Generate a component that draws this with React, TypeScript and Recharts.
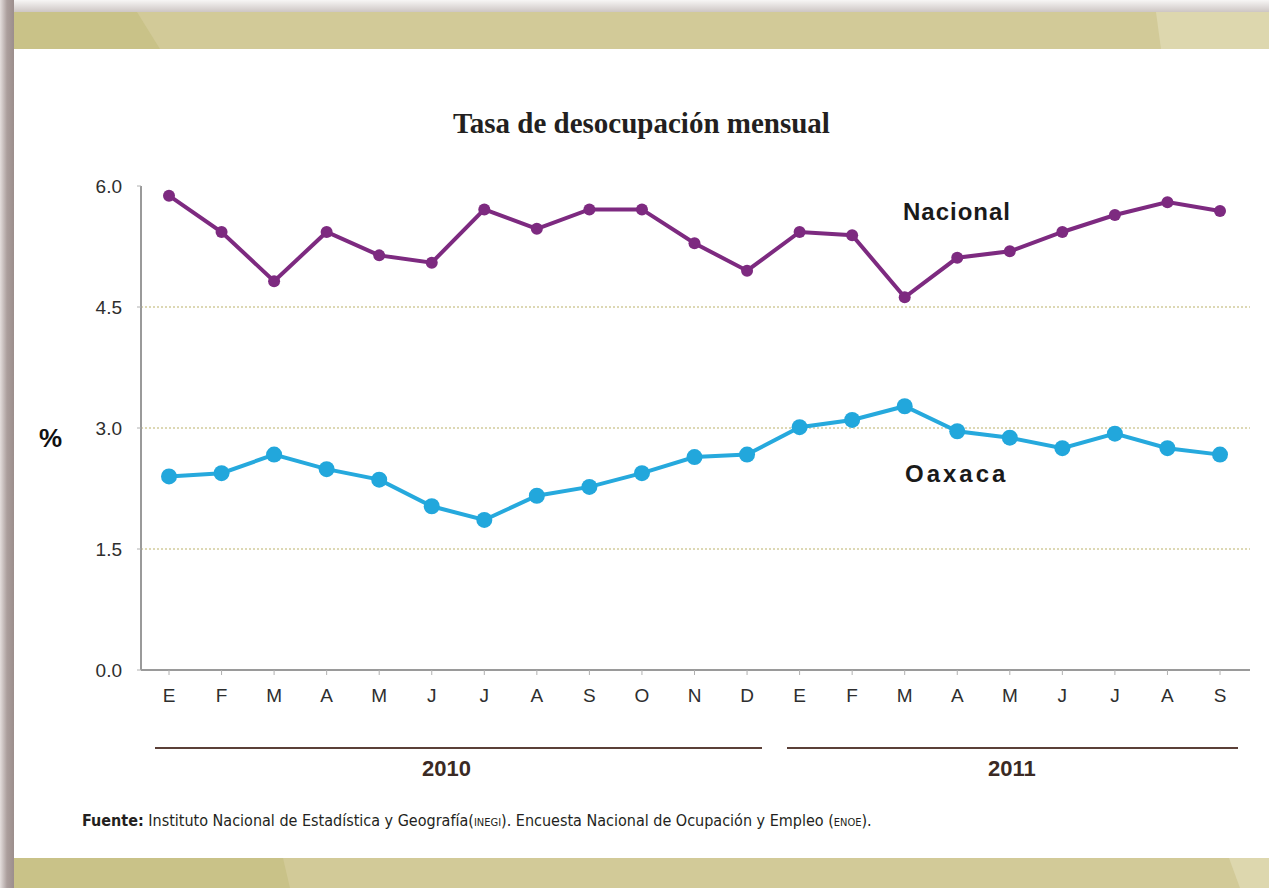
import React from 'react';
import { LineChart, Line, XAxis, YAxis, ReferenceLine } from 'recharts';

const months = ['E', 'F', 'M', 'A', 'M', 'J', 'J', 'A', 'S', 'O', 'N', 'D', 'E', 'F', 'M', 'A', 'M', 'J', 'J', 'A', 'S'];
const nacional = [5.88, 5.43, 4.82, 5.43, 5.14, 5.05, 5.71, 5.47, 5.71, 5.71, 5.29, 4.95, 5.43, 5.39, 4.62, 5.11, 5.19, 5.43, 5.64, 5.8, 5.69];
const oaxaca = [2.4, 2.44, 2.67, 2.49, 2.36, 2.03, 1.86, 2.16, 2.27, 2.44, 2.64, 2.67, 3.01, 3.1, 3.27, 2.96, 2.88, 2.75, 2.93, 2.75, 2.67];
const yTicks = [0, 1.5, 3, 4.5, 6];
const gridValues = [1.5, 3, 4.5];

const data = months.map((m, i) => ({ name: m, nacional: nacional[i], oaxaca: oaxaca[i] }));

const GOLD = '#d2ca98';
const GOLD_DARK = '#c9c288';
const GOLD_LIGHT = '#ddd7ae';

const tickStyle = { fontFamily: 'Liberation Sans, Arial, sans-serif', fontSize: 19, fill: '#2e2e2e' };

const Frame: React.FC = () => (
  <svg width={1269} height={888} style={{ position: 'absolute', left: 0, top: 0 }}>
    <defs>
      <linearGradient id="topShade" x1="0" y1="0" x2="0" y2="1">
        <stop offset="0" stopColor="#f7f6f5" />
        <stop offset="1" stopColor="#cdc6c4" />
      </linearGradient>
      <linearGradient id="leftShade" x1="0" y1="0" x2="1" y2="0">
        <stop offset="0" stopColor="#e4dedd" />
        <stop offset="0.5" stopColor="#ab9e9c" />
        <stop offset="1" stopColor="#9c8e8c" />
      </linearGradient>
    </defs>
    <rect x={0} y={0} width={1269} height={12} fill="url(#topShade)" />
    <rect x={0} y={0} width={14} height={888} fill="url(#leftShade)" />
    {/* top band */}
    <rect x={14} y={12} width={1255} height={37} fill={GOLD} />
    <polygon points="14,12 137,12 160,49 14,49" fill={GOLD_DARK} />
    <polygon points="1156,12 1269,12 1269,49 1161,49" fill={GOLD_LIGHT} />
    {/* bottom band */}
    <rect x={14} y={858} width={1255} height={30} fill={GOLD} />
    <polygon points="14,858 283,858 290,888 14,888" fill={GOLD_DARK} />
    <polygon points="1229,858 1269,858 1269,888 1240,888" fill={GOLD_LIGHT} />
    {/* year brackets */}
    <line x1={155} y1={748} x2={762} y2={748} stroke="#5b4038" strokeWidth={2} />
    <line x1={787} y1={748} x2={1238} y2={748} stroke="#5b4038" strokeWidth={2} />
  </svg>
);

const abs = (left: number, top: number, extra: React.CSSProperties = {}): React.CSSProperties => ({
  position: 'absolute',
  left,
  top,
  whiteSpace: 'nowrap',
  ...extra,
});

const App: React.FC = () => (
  <div style={{ position: 'absolute', left: 0, top: 0, width: 1269, height: 888, background: '#fff', overflow: 'hidden' }}>
    <Frame />
    <div
      style={abs(0, 107, {
        width: 1269,
        textAlign: 'center',
        paddingLeft: 14,
        boxSizing: 'border-box',
        fontFamily: 'Liberation Serif, serif',
        fontWeight: 'bold',
        fontSize: 29,
        color: '#231f20',
      })}
    >
      Tasa de desocupación mensual
    </div>
    <div style={abs(39, 423, { fontFamily: 'Liberation Sans, Arial', fontWeight: 'bold', fontSize: 26, color: '#111' })}>%</div>
    <div style={abs(0, 0)}>
      <LineChart width={1269} height={888} data={data} margin={{ top: 186, right: 19, bottom: 188, left: 81 }}>
        {gridValues.map((v) => (
          <ReferenceLine key={v} y={v} stroke="#ddd8b4" strokeWidth={2} strokeDasharray="2 2" />
        ))}
        <XAxis
          dataKey="name"
          height={30}
          padding={{ left: 28, right: 30 }}
          axisLine={{ stroke: '#9a9a9a', strokeWidth: 2 }}
          tickLine={{ stroke: '#b0b0b0' }}
          tickSize={5}
          tickMargin={14}
          tick={tickStyle}
          interval={0}
        />
        <YAxis
          domain={[0, 6]}
          ticks={yTicks}
          width={60}
          axisLine={{ stroke: '#9a9a9a', strokeWidth: 2 }}
          tickLine={{ stroke: '#b0b0b0' }}
          tickSize={4}
          tickMargin={15}
          tick={tickStyle}
          tickFormatter={(v: number) => v.toFixed(1)}
        />
        <Line
          dataKey="nacional"
          type="linear"
          stroke="#7d2a80"
          strokeWidth={4}
          dot={{ r: 6, fill: '#7d2a80', stroke: '#7d2a80', strokeWidth: 0 }}
          isAnimationActive={false}
        />
        <Line
          dataKey="oaxaca"
          type="linear"
          stroke="#26a9dd"
          strokeWidth={4}
          dot={{ r: 8, fill: '#22a7dc', stroke: '#22a7dc', strokeWidth: 0 }}
          isAnimationActive={false}
        />
      </LineChart>
    </div>
    <div style={abs(903, 198, { fontFamily: 'Liberation Sans, Arial', fontWeight: 'bold', fontSize: 24, letterSpacing: 1, color: '#1a1a1a' })}>
      Nacional
    </div>
    <div style={abs(905, 460, { fontFamily: 'Liberation Sans, Arial', fontWeight: 'bold', fontSize: 24, letterSpacing: 3, color: '#1a1a1a' })}>
      Oaxaca
    </div>
    <div style={abs(422, 756, { fontFamily: 'Liberation Sans, Arial', fontWeight: 'bold', fontSize: 22, color: '#3b2a24' })}>2010</div>
    <div style={abs(988, 756, { fontFamily: 'Liberation Sans, Arial', fontWeight: 'bold', fontSize: 22, color: '#3b2a24' })}>2011</div>
    <div
      style={abs(82, 811, {
        fontFamily: "'Liberation Sans Narrow', 'DejaVu Sans Condensed', 'Roboto', sans-serif",
        fontSize: 16,
        color: '#231f20',
      })}
    >
      <b>Fuente:</b> Instituto Nacional de Estadística y Geografía(<span style={{ fontSize: 11 }}>INEGI</span>). Encuesta Nacional de
      Ocupación y Empleo (<span style={{ fontSize: 11 }}>ENOE</span>).
    </div>
  </div>
);

export default App;
